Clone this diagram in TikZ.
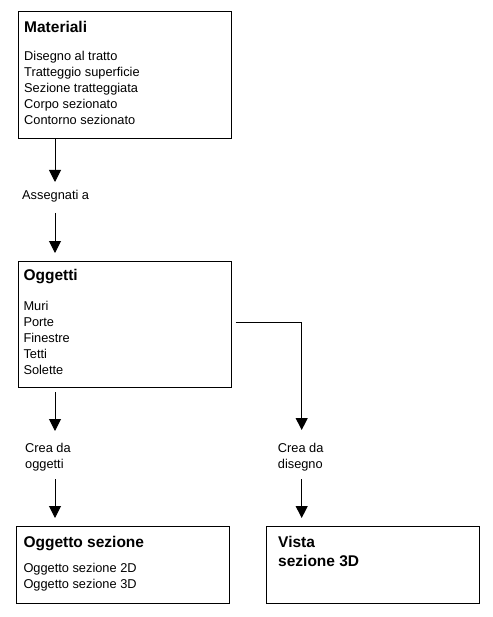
\documentclass[tikz,border=0pt]{standalone}
\usepackage{fontspec}
\setmainfont{Liberation Sans}
\usetikzlibrary{arrows.meta}
\begin{document}
\begin{tikzpicture}[x=1pt,y=-1pt,
  box/.style={draw,line width=1pt,inner sep=0pt,outer sep=0pt,anchor=north west,minimum width=213pt},
  body/.style={anchor=base west,inner sep=0pt,align=left,font=\fontsize{12.8}{16}\selectfont},
  title/.style={anchor=base west,inner sep=0pt,align=left,font=\bfseries\fontsize{15.5}{19}\selectfont},
  arr/.style={line width=1pt,-{Triangle[width=12pt,length=12pt]}},
  link/.style={line width=1pt}]
\useasboundingbox[fill=white] (0,0) rectangle (492,617);
% boxes
\node[box,minimum height=127pt] (mat) at (18.5,11.5) {};
\node[box,minimum height=126pt] (ogg) at (18,261) {};
\node[box,minimum height=77pt] (sez) at (16,526) {};
\node[box,minimum height=77pt] (vis) at (266,526) {};
% texts (base anchor = baseline of the last line)
\node[title] (matT) at (24,32.3) {Materiali};
\node[body] (matB) at (24,125) {Disegno al tratto\\Tratteggio superficie\\Sezione tratteggiata\\Corpo sezionato\\Contorno sezionato};
\node[title] (oggT) at (23.3,280.7) {Oggetti};
\node[body] (oggB) at (23.3,374) {Muri\\Porte\\Finestre\\Tetti\\Solette};
\node[title] (sezT) at (23.3,547.7) {Oggetto sezione};
\node[body] (sezB) at (23.3,588) {Oggetto sezione 2D\\Oggetto sezione 3D};
\node[title] (visT) at (278,566.7) {Vista\\sezione 3D};
% labels
\node[body] (lab1) at (22,199.5) {Assegnati a};
\node[body] (lab2) at (25,468.7) {Crea da\\oggetti};
\node[body] (lab3) at (277.7,468.7) {Crea da\\disegno};
% connector coordinates
\coordinate (a1e) at (55,182);
\coordinate (a2s) at (55,213);
\coordinate (a2e) at (55,253);
\coordinate (a3s) at (55,392);
\coordinate (a3e) at (55,431);
\coordinate (a4s) at (55,479);
\coordinate (a4e) at (55,518);
\coordinate (rs) at (235.7,322);
\coordinate (rc) at (301.7,322);
\coordinate (re) at (301.7,430);
\coordinate (a5s) at (301.7,479);
\coordinate (a5e) at (301.7,518);
% connectors
\draw[arr] (mat.south -| a1e) -- (a1e);
\draw[arr] (a2s) -- (a2e);
\draw[arr] (a3s) -- (a3e);
\draw[arr] (a4s) -- (a4e);
\draw[arr] (rs) -- (rc) -- (re);
\draw[arr] (a5s) -- (a5e);
\end{tikzpicture}
\end{document}
